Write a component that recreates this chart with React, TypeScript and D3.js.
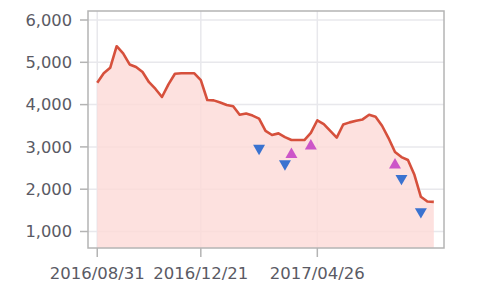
import React from "react";
import * as d3 from "d3";

const startDate = "2016-08-31";
const weeklyValues = [
  4518, 4740, 4870, 5380, 5210, 4950, 4890, 4770, 4530, 4370,
  4180, 4480, 4730, 4740, 4740, 4740, 4580, 4109, 4100, 4050,
  3990, 3960, 3760, 3790, 3740, 3670, 3380, 3281, 3320, 3230,
  3163, 3163, 3163, 3330, 3630, 3540, 3380, 3220, 3530, 3580,
  3620, 3650, 3760, 3714, 3500, 3210, 2880, 2760, 2690, 2340,
  1820, 1710, 1700,
];
const sellWeeks = [25, 29, 47, 50];
const sellValues = [2967, 2600, 2257, 1468];
const buyWeeks = [30, 33, 46];
const buyValues = [2820, 3021, 2572];
const yTicks = [1000, 2000, 3000, 4000, 5000, 6000];
const xTickLabels = ["2016/08/31", "2016/12/21", "2017/04/26"];

const W = 500, H = 294;
const left = 88, right = 444, top = 11, bottom = 248;

const parse = d3.timeParse("%Y/%m/%d");
const parseIso = d3.timeParse("%Y-%m-%d");
const start = parseIso(startDate) as Date;
const dateOfWeek = (k: number) => d3.timeDay.offset(start, k * 7);

export default function App() {
  const x = d3
    .scaleTime()
    .domain([parseIso("2016-08-21") as Date, parseIso("2017-09-10") as Date])
    .range([left, right]);
  const y = d3.scaleLinear().domain([610, 6213]).range([bottom, top]);

  const pts = weeklyValues.map((v, i) => ({ d: dateOfWeek(i), v }));
  const line = d3
    .line<{ d: Date; v: number }>()
    .x((p) => x(p.d))
    .y((p) => y(p.v));
  const area = d3
    .area<{ d: Date; v: number }>()
    .x((p) => x(p.d))
    .y0(bottom)
    .y1((p) => y(p.v));
  const tri = d3.symbol(d3.symbolTriangle, 62)() as string;
  const font = "'DejaVu Sans', Verdana, sans-serif";

  return (
    <svg
      width={W}
      height={H}
      style={{ position: "absolute", left: 0, top: 0, background: "#fff" }}
    >
      <rect x={left} y={top} width={right - left} height={bottom - top} fill="#fff" />
      {yTicks.map((t) => (
        <line key={"gy" + t} x1={left} x2={right} y1={y(t)} y2={y(t)} stroke="#e8e8ec" strokeWidth={1.5} />
      ))}
      {xTickLabels.map((t) => (
        <line key={"gx" + t} x1={x(parse(t) as Date)} x2={x(parse(t) as Date)} y1={top} y2={bottom} stroke="#e8e8ec" strokeWidth={1.5} />
      ))}
      <path d={area(pts) as string} fill="#fcd9d7" fillOpacity={0.8} />
      <path d={line(pts) as string} fill="none" stroke="#d6503c" strokeWidth={2.6} strokeLinejoin="round" />
      {sellWeeks.map((k, i) => (
        <path
          key={"s" + k}
          d={tri}
          fill="#3a72d0"
          transform={`translate(${x(dateOfWeek(k))},${y(sellValues[i])}) rotate(180)`}
        />
      ))}
      {buyWeeks.map((k, i) => (
        <path
          key={"b" + k}
          d={tri}
          fill="#cc55c8"
          transform={`translate(${x(dateOfWeek(k))},${y(buyValues[i])})`}
        />
      ))}
      <rect x={left} y={top} width={right - left} height={bottom - top} fill="none" stroke="#b4b4b4" strokeWidth={1.5} />
      {yTicks.map((t) => (
        <g key={"ty" + t}>
          <line x1={left - 8} x2={left} y1={y(t)} y2={y(t)} stroke="#b4b4b4" strokeWidth={1.5} />
          <text x={72} y={y(t)} dy="0.36em" textAnchor="end" fontFamily={font} fontSize={16.3} fill="#5a5a64">
            {d3.format(",")(t)}
          </text>
        </g>
      ))}
      {xTickLabels.map((t) => (
        <g key={"tx" + t}>
          <line x1={x(parse(t) as Date)} x2={x(parse(t) as Date)} y1={bottom} y2={bottom + 9} stroke="#b4b4b4" strokeWidth={1.5} />
          <text x={x(parse(t) as Date)} y={279} textAnchor="middle" fontFamily={font} fontSize={16.5} fill="#5a5a64">
            {t}
          </text>
        </g>
      ))}
    </svg>
  );
}
